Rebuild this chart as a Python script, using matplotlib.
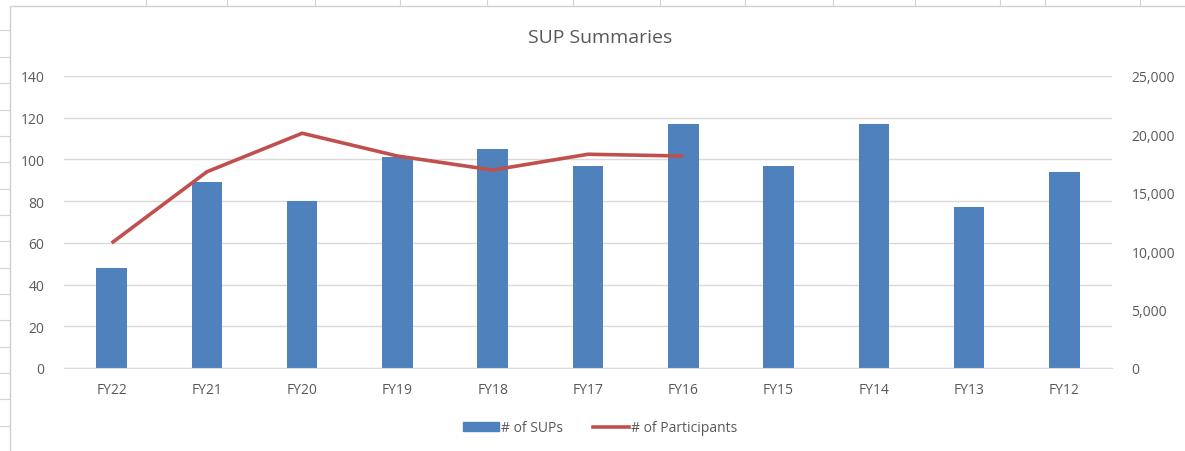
import numpy as np
import matplotlib
matplotlib.use('Agg')
import matplotlib.pyplot as plt
from matplotlib.ticker import FuncFormatter
from matplotlib.patches import Rectangle
from matplotlib.lines import Line2D

plt.rcParams.update({
    'font.family': ['Open Sans', 'DejaVu Sans'],
    'font.size': 9,
})

years = ['FY22', 'FY21', 'FY20', 'FY19', 'FY18', 'FY17', 'FY16', 'FY15', 'FY14', 'FY13', 'FY12']
sups = [48, 89, 80, 101, 105, 97, 117, 97, 117, 77, 94]
participants = [10700, 16800, 20100, 18150, 16950, 18300, 18150]

bar_color = '#4F81BD'
line_color = '#C0504D'
text_color = '#595959'
grid_color = '#D9D9D9'

fig = plt.figure(figsize=(11.85, 4.52), dpi=100)
fig.patch.set_facecolor('white')

# spreadsheet cells behind the chart
for x in [146, 227, 315, 400, 487, 573, 660, 745, 833, 915, 1000, 1045, 1140]:
    fig.add_artist(Line2D([x / 1185, x / 1185], [1, 1 - 7 / 452], color='#D4D4D4', lw=0.8))
for y in [31, 58, 84, 111, 137, 163, 190, 216, 242, 269, 295, 321, 348, 374, 400, 427]:
    fig.add_artist(Line2D([0, 10 / 1185], [1 - y / 452, 1 - y / 452], color='#D4D4D4', lw=0.8))
fig.add_artist(Rectangle((10 / 1185, -0.01), 1.0, 1 - 7 / 452 + 0.01,
                         transform=fig.transFigure, fill=False, edgecolor='#D0D0D0', lw=1))

ax = fig.add_axes([64 / 1185, 1 - 369 / 452, (1112 - 64) / 1185, (369 - 77) / 452])
x = np.arange(len(years))
ax.bar(x, sups, width=0.32, color=bar_color, zorder=2, label='# of SUPs')
ax.set_xlim(-0.5, len(years) - 0.5)
ax.set_ylim(0, 140)
ax.set_yticks(range(0, 141, 20))
ax.set_xticks(x)
ax.set_xticklabels(years)
ax.grid(axis='y', color=grid_color, lw=1, zorder=0)
ax.set_axisbelow(True)
for s in ax.spines.values():
    s.set_visible(False)
ax.spines['bottom'].set_visible(True)
ax.spines['bottom'].set_color(grid_color)
ax.tick_params(length=0, colors=text_color, labelsize=10)
ax.tick_params(axis='y', pad=14)
ax.tick_params(axis='x', pad=10)

ax2 = ax.twinx()
ax2.plot(x[:len(participants)], participants, color=line_color, lw=2.6, zorder=3,
         solid_capstyle='butt', label='# of Participants')
ax2.set_ylim(0, 25000)
ax2.set_yticks(range(0, 25001, 5000))
ax2.yaxis.set_major_formatter(FuncFormatter(lambda v, p: f'{int(v):,}'))
for s in ax2.spines.values():
    s.set_visible(False)
ax2.tick_params(length=0, colors=text_color, labelsize=10, pad=14)

fig.text(600 / 1185, 1 - 38 / 452, 'SUP Summaries', ha='center', va='center',
         fontsize=14, color=text_color)

handles = [Rectangle((0, 0), 1, 1, color=bar_color),
           Line2D([0], [0], color=line_color, lw=2.6)]
fig.legend(handles, ['# of SUPs', '# of Participants'], loc='center',
           bbox_to_anchor=(600 / 1185, 1 - 429 / 452), ncol=2, frameon=False,
           fontsize=10, labelcolor=text_color, handlelength=2.6, handleheight=0.6,
           handletextpad=0.1, columnspacing=2.2)

fig.savefig('out.png', dpi=100)
